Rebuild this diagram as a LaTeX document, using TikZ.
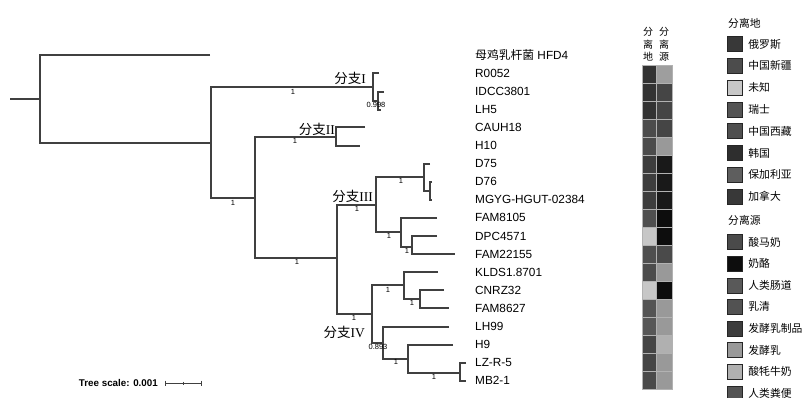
\documentclass[tikz,border=0pt]{standalone}
\usepackage{fontspec}
\setmainfont{Liberation Sans}
\newfontfamily\cjk{Noto Sans CJK SC}
\newfontfamily\cladefont{Liberation Serif}
\usetikzlibrary{positioning}

\begin{document}
\begin{tikzpicture}[x=1pt,y=-1pt,
  br/.style={line width=1.1pt,black!75},
  bs/.style={inner sep=0pt,font=\fontsize{7.5}{7.5}\selectfont},
  leaf/.style={anchor=west,inner sep=0pt,font=\fontsize{11.8}{12}\selectfont},
  clade/.style={anchor=east,inner sep=0pt,font=\fontsize{13.5}{14}\selectfont},
  hdr/.style={inner sep=0pt,align=center,font=\cjk\fontsize{10}{12.5}\selectfont},
  swatch/.style={minimum size=15pt,inner sep=0pt,draw=black!85,line width=0.4pt},
  legtext/.style={anchor=west,inner sep=0pt,font=\cjk\fontsize{10.8}{11}\selectfont}]
\useasboundingbox (0,0) rectangle (805,398);
% tree
\draw[br] (10,99) -- (40,99);
\draw[br] (210,55) -| (40,143) -- (211,143);
\draw[br] (373,87) -| (211,198) -- (255,198);
\draw[br] (379,73) -| (373,101) -- (378,101);
\draw[br] (384,92) -| (378,110) -- (381,110);
\draw[br] (336,137) -| (255,258) -- (337,258);
\draw[br] (365,127) -| (336,146) -- (360,146);
\draw[br] (376,205) -| (337,314) -- (372,314);
\draw[br] (424,177) -| (376,232) -- (401,232);
\draw[br] (430,164) -| (424,191) -- (430,191);
\draw[br] (432,182) -| (430,200) -- (432,200);
\draw[br] (437,218) -| (401,247) -- (412,247);
\draw[br] (437,236) -| (412,254) -- (455,254);
\draw[br] (404,285) -| (372,343) -- (383,343);
\draw[br] (438,272) -| (404,299) -- (420,299);
\draw[br] (444,290) -| (420,308) -- (449,308);
\draw[br] (449,327) -| (383,359) -- (408,359);
\draw[br] (453,345) -| (408,373) -- (460,373);
\draw[br] (466,363) -| (460,381) -- (466,381);
\foreach \x/\y/\v [count=\i] in {293/92/1,233/203/1,295/141/1,297/262/1,357/209/1,401/181/1,
  389/236/1,407/251/1,354/318/1,388/290/1,412/303/1,396/362/1,434/377/1,376/105/0.998,378/347/0.893}
  \node[bs] (b\i) at (\x,\y) {\v};
\foreach \name [count=\i from 0] in {{{\cjk 母鸡乳杆菌} HFD4},R0052,IDCC3801,LH5,CAUH18,H10,D75,D76,
  MGYG-HGUT-02384,FAM8105,DPC4571,FAM22155,KLDS1.8701,CNRZ32,FAM8627,LH99,H9,LZ-R-5,MB2-1}
  \node[leaf] (l\i) at (475,{55+18.1*\i}) {\name};
\node[clade] (c1) at (366,78) {{\cjk 分支}{\cladefont I}};
\node[clade] (c2) at (335,129) {{\cjk 分支}{\cladefont II}};
\node[clade] (c3) at (373,196) {{\cjk 分支}{\cladefont III}};
\node[clade] (c4) at (365,332) {{\cjk 分支}{\cladefont IV}};
% heatmap
\node[hdr] (h1) at (648,44.5) {分\\离\\地};
\node[hdr] (h2) at (664,44.5) {分\\离\\源};
\foreach \a/\b [count=\i] in {80/38,80/73,80/73,70/73,70/40,76/90,76/90,76/90,69/95,
  22/95,69/71,70/40,22/95,67/40,66/40,73/31,73/40,71/40} {
  \pgfmathsetmacro{\ry}{65+18*(\i-1)}
  \filldraw[fill=black!\a,draw=black!30,line width=0.3pt] (642,\ry) rectangle ++(14,18);
  \filldraw[fill=black!\b,draw=black!30,line width=0.3pt] (656,\ry) rectangle ++(16,18);
}
% legend
\node[legtext] (t1) at (728,23) {分离地};
\foreach \c/\t [count=\i] in {78/俄罗斯,70/中国新疆,22/未知,67/瑞士,69/中国西藏,82/韩国,63/保加利亚,78/加拿大} {
  \node[swatch,fill=black!\c] (s\i) at (734.5,{44+21.8*(\i-1)}) {};
  \node[legtext,right=6pt of s\i] (n\i) {\t};
}
\node[legtext] (t2) at (728,220) {分离源};
\foreach \c/\t [count=\i from 9] in {71/酸马奶,95/奶酪,65/人类肠道,68/乳清,76/发酵乳制品,40/发酵乳,31/酸牦牛奶,67/人类粪便} {
  \node[swatch,fill=black!\c] (s\i) at (734.5,{242+21.6*(\i-9)}) {};
  \node[legtext,right=6pt of s\i] (n\i) {\t};
}
% scale
\node[anchor=east,inner sep=0pt,font=\bfseries\fontsize{9.8}{10}\selectfont] (sc) at (158,383) {Tree scale: 0.001};
\coordinate (sa) at (165,383);
\coordinate (sb) at (201,383);
\coordinate (sm) at (183,383);
\draw[line width=0.8pt,black!75] (sa) -- (sb);
\draw[line width=0.8pt,black!75] (sa) ++(0,-2.5) -- ++(0,5) (sb) ++(0,-2.5) -- ++(0,5) (sm) ++(0,-1.5) -- ++(0,3);
\end{tikzpicture}
\end{document}
